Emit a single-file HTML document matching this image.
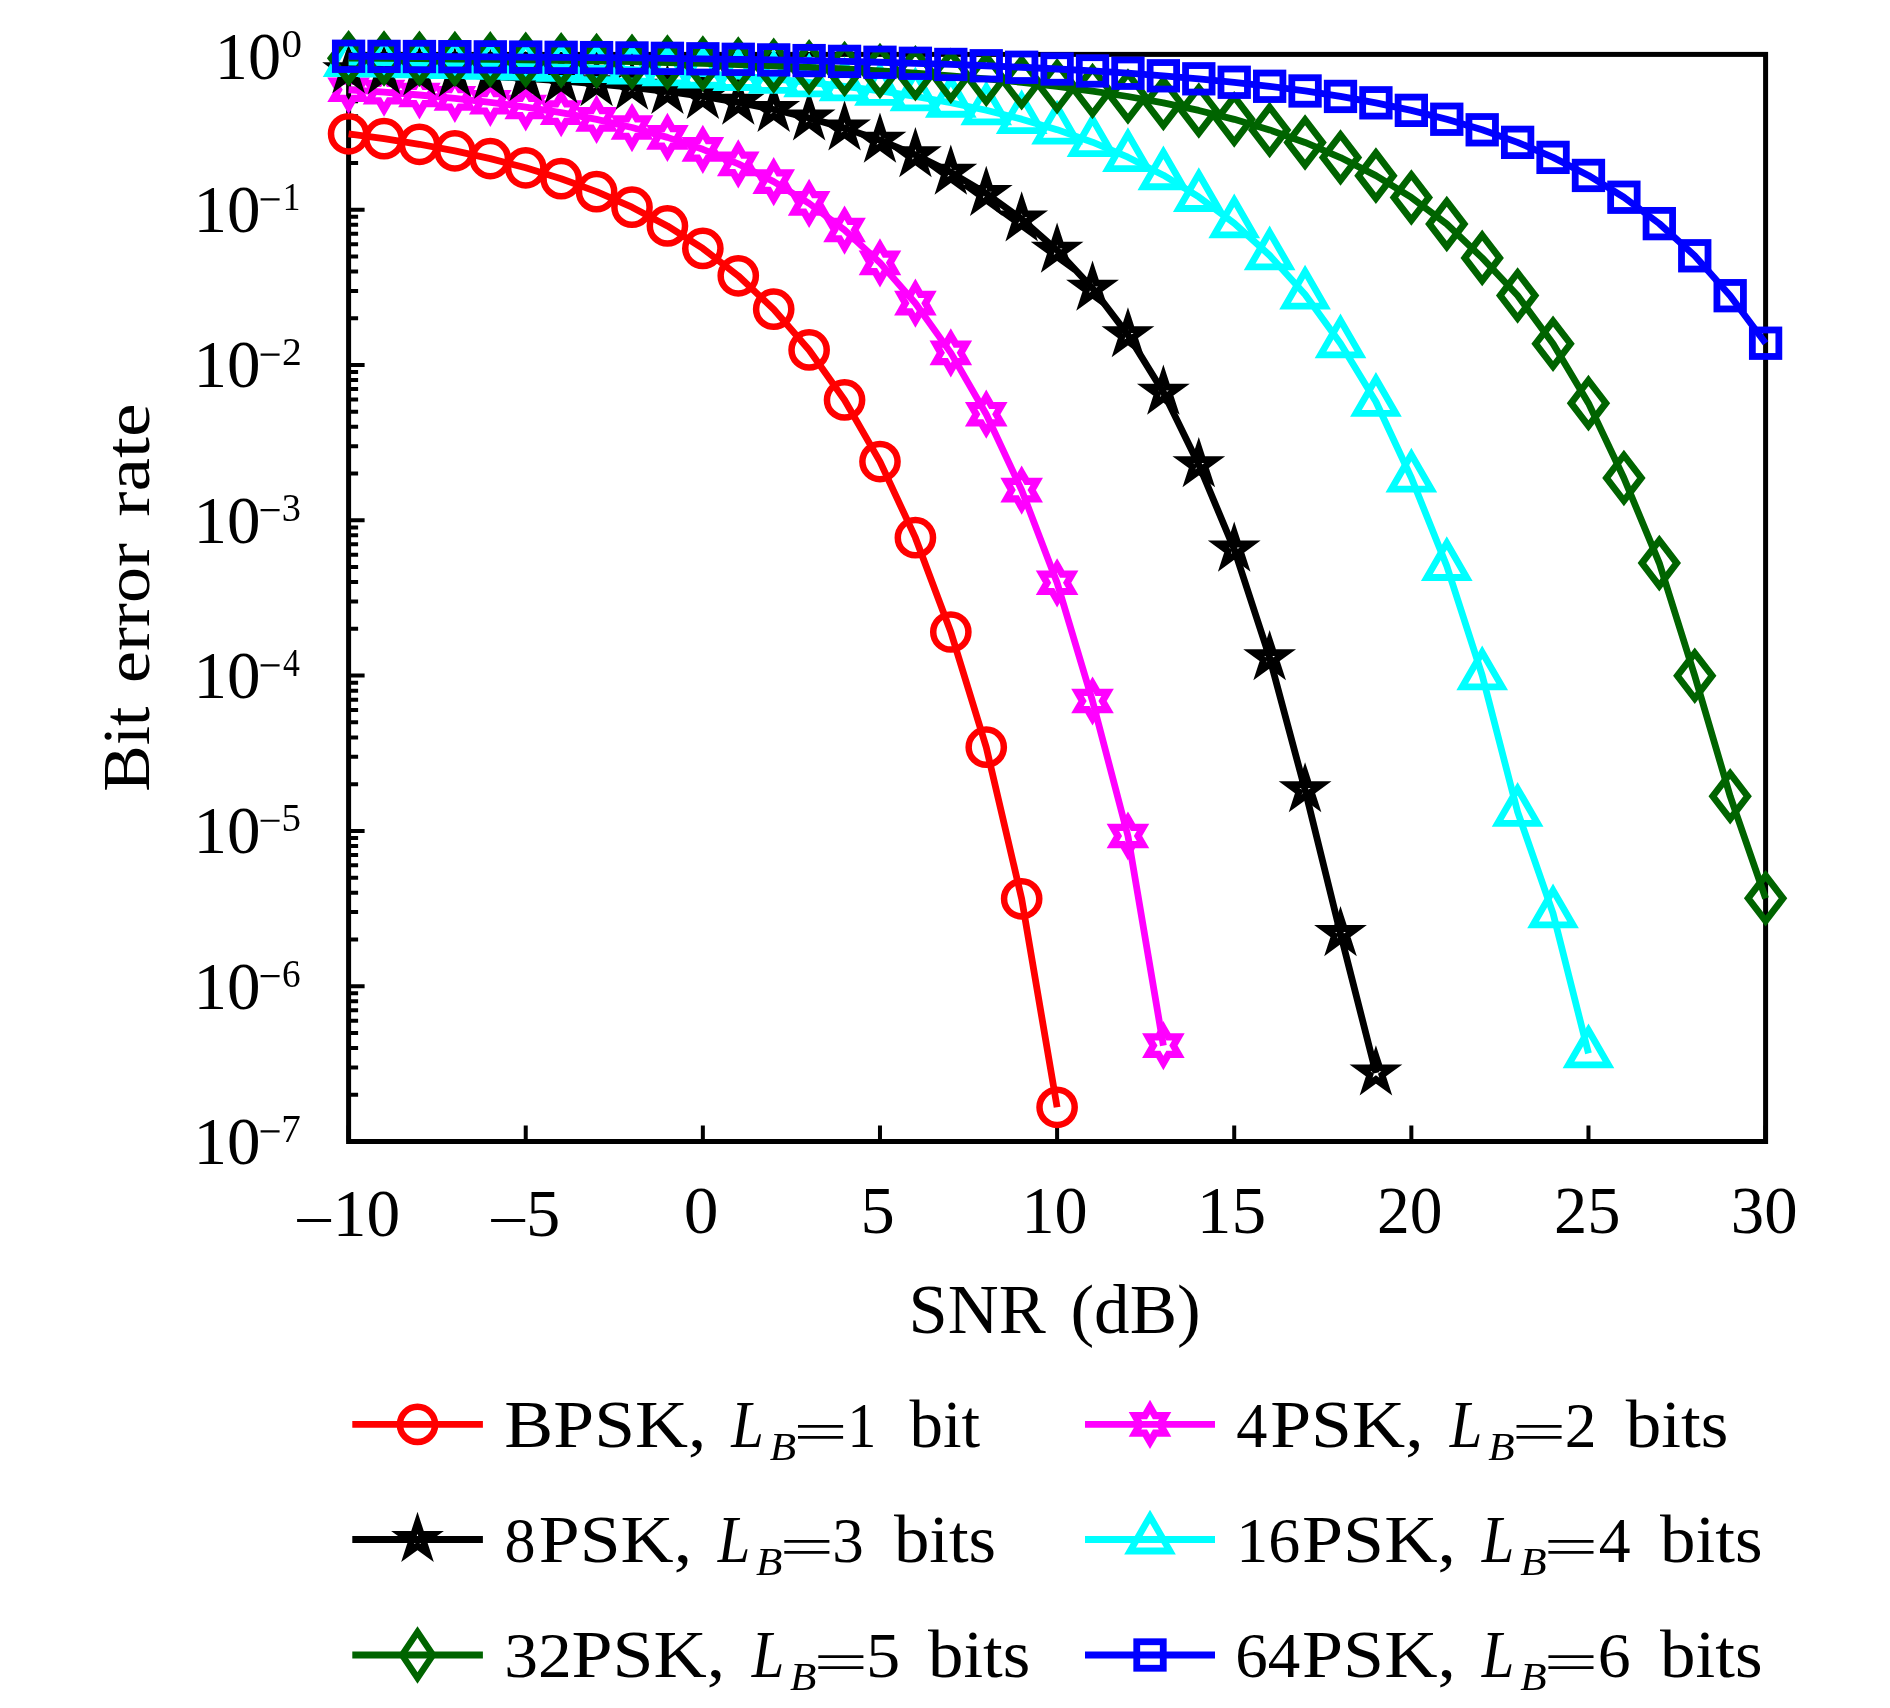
<!DOCTYPE html>
<html><head><meta charset="utf-8"><title>BER vs SNR</title><style>html,body{margin:0;padding:0;background:#fff}svg{display:block;will-change:transform}text{font-family:"Liberation Serif",serif;fill:#000}</style></head><body>
<svg width="1890" height="1708" viewBox="0 0 1890 1708">
<rect width="1890" height="1708" fill="#fff"/>
<g stroke="#000" fill="none">
<rect x="348.6" y="54.4" width="1417" height="1087.1" stroke-width="5"/>
<path d="M348.6 54.4h16M348.6 162.95h9.5M348.6 135.6h9.5M348.6 116.2h9.5M348.6 101.15h9.5M348.6 88.85h9.5M348.6 78.46h9.5M348.6 69.45h9.5M348.6 61.51h9.5M348.6 209.7h16M348.6 318.25h9.5M348.6 290.9h9.5M348.6 271.5h9.5M348.6 256.45h9.5M348.6 244.15h9.5M348.6 233.76h9.5M348.6 224.75h9.5M348.6 216.81h9.5M348.6 365h16M348.6 473.55h9.5M348.6 446.2h9.5M348.6 426.8h9.5M348.6 411.75h9.5M348.6 399.45h9.5M348.6 389.06h9.5M348.6 380.05h9.5M348.6 372.11h9.5M348.6 520.3h16M348.6 628.85h9.5M348.6 601.5h9.5M348.6 582.1h9.5M348.6 567.05h9.5M348.6 554.75h9.5M348.6 544.36h9.5M348.6 535.35h9.5M348.6 527.41h9.5M348.6 675.6h16M348.6 784.15h9.5M348.6 756.8h9.5M348.6 737.4h9.5M348.6 722.35h9.5M348.6 710.05h9.5M348.6 699.66h9.5M348.6 690.65h9.5M348.6 682.71h9.5M348.6 830.9h16M348.6 939.45h9.5M348.6 912.1h9.5M348.6 892.7h9.5M348.6 877.65h9.5M348.6 865.35h9.5M348.6 854.96h9.5M348.6 845.95h9.5M348.6 838.01h9.5M348.6 986.2h16M348.6 1094.75h9.5M348.6 1067.4h9.5M348.6 1048h9.5M348.6 1032.95h9.5M348.6 1020.65h9.5M348.6 1010.26h9.5M348.6 1001.25h9.5M348.6 993.31h9.5M348.6 1141.5h16M348.6 1141.5v-16M525.73 1141.5v-16M702.85 1141.5v-16M879.98 1141.5v-16M1057.1 1141.5v-16M1234.22 1141.5v-16M1411.35 1141.5v-16M1588.47 1141.5v-16M1765.6 1141.5v-16" stroke-width="4"/>
</g>
<g stroke="#ff0000" stroke-width="6.8" fill="none" stroke-linejoin="miter">
<polyline points="348.6,133.85 384.03,138.66 419.45,144.28 454.88,150.87 490.3,158.63 525.73,167.8 561.15,178.69 596.58,191.67 632,207.21 667.42,225.9 702.85,248.47 738.27,275.84 773.7,309.18 809.12,349.95 844.55,399.97 879.98,461.58 915.4,537.69 950.82,631.99 986.25,747.2 1021.67,898.8 1057.1,1107.3" stroke-linejoin="round"/>
<g stroke-width="6.5">
<circle cx="348.6" cy="133.85" r="17.6"/>
<circle cx="384.03" cy="138.66" r="17.6"/>
<circle cx="419.45" cy="144.28" r="17.6"/>
<circle cx="454.88" cy="150.87" r="17.6"/>
<circle cx="490.3" cy="158.63" r="17.6"/>
<circle cx="525.73" cy="167.8" r="17.6"/>
<circle cx="561.15" cy="178.69" r="17.6"/>
<circle cx="596.58" cy="191.67" r="17.6"/>
<circle cx="632" cy="207.21" r="17.6"/>
<circle cx="667.42" cy="225.9" r="17.6"/>
<circle cx="702.85" cy="248.47" r="17.6"/>
<circle cx="738.27" cy="275.84" r="17.6"/>
<circle cx="773.7" cy="309.18" r="17.6"/>
<circle cx="809.12" cy="349.95" r="17.6"/>
<circle cx="844.55" cy="399.97" r="17.6"/>
<circle cx="879.98" cy="461.58" r="17.6"/>
<circle cx="915.4" cy="537.69" r="17.6"/>
<circle cx="950.82" cy="631.99" r="17.6"/>
<circle cx="986.25" cy="747.2" r="17.6"/>
<circle cx="1021.67" cy="898.8" r="17.6"/>
<circle cx="1057.1" cy="1107.3" r="17.6"/>
</g></g>
<g stroke="#ff00ff" stroke-width="6.8" fill="none" stroke-linejoin="miter">
<polyline points="348.6,89.74 384.03,92.15 419.45,94.99 454.88,98.34 490.3,102.3 525.73,107.02 561.15,112.65 596.58,119.41 632,127.55 667.42,137.39 702.85,149.34 738.27,163.89 773.7,181.65 809.12,203.4 844.55,230.06 879.98,262.83 915.4,303.16 950.82,352.86 986.25,414.21 1021.67,490.1 1057.1,582.8 1092.53,701.01 1127.95,836 1163.38,1045.6" stroke-linejoin="round"/>
<g stroke-width="6.8">
<polygon stroke-width="7.2" points="348.6,72.34 353.62,81.04 363.67,81.04 358.65,89.74 363.67,98.44 353.62,98.44 348.6,107.14 343.58,98.44 333.53,98.44 338.55,89.74 333.53,81.04 343.58,81.04"/>
<polygon stroke-width="7.2" points="384.03,74.75 389.05,83.45 399.09,83.45 394.07,92.15 399.09,100.85 389.05,100.85 384.03,109.55 379,100.85 368.96,100.85 373.98,92.15 368.96,83.45 379,83.45"/>
<polygon stroke-width="7.2" points="419.45,77.59 424.47,86.29 434.52,86.29 429.5,94.99 434.52,103.69 424.47,103.69 419.45,112.39 414.43,103.69 404.38,103.69 409.4,94.99 404.38,86.29 414.43,86.29"/>
<polygon stroke-width="7.2" points="454.88,80.94 459.9,89.64 469.94,89.64 464.92,98.34 469.94,107.04 459.9,107.04 454.88,115.74 449.85,107.04 439.81,107.04 444.83,98.34 439.81,89.64 449.85,89.64"/>
<polygon stroke-width="7.2" points="490.3,84.9 495.32,93.6 505.37,93.6 500.35,102.3 505.37,111 495.32,111 490.3,119.7 485.28,111 475.23,111 480.25,102.3 475.23,93.6 485.28,93.6"/>
<polygon stroke-width="7.2" points="525.73,89.62 530.75,98.32 540.79,98.32 535.77,107.02 540.79,115.72 530.75,115.72 525.73,124.42 520.7,115.72 510.66,115.72 515.68,107.02 510.66,98.32 520.7,98.32"/>
<polygon stroke-width="7.2" points="561.15,95.25 566.17,103.95 576.22,103.95 571.2,112.65 576.22,121.35 566.17,121.35 561.15,130.05 556.13,121.35 546.08,121.35 551.1,112.65 546.08,103.95 556.13,103.95"/>
<polygon stroke-width="7.2" points="596.58,102.01 601.6,110.71 611.64,110.71 606.62,119.41 611.64,128.11 601.6,128.11 596.58,136.81 591.55,128.11 581.51,128.11 586.53,119.41 581.51,110.71 591.55,110.71"/>
<polygon stroke-width="7.2" points="632,110.15 637.02,118.85 647.07,118.85 642.05,127.55 647.07,136.25 637.02,136.25 632,144.95 626.98,136.25 616.93,136.25 621.95,127.55 616.93,118.85 626.98,118.85"/>
<polygon stroke-width="7.2" points="667.42,119.99 672.45,128.69 682.49,128.69 677.47,137.39 682.49,146.09 672.45,146.09 667.42,154.79 662.4,146.09 652.36,146.09 657.38,137.39 652.36,128.69 662.4,128.69"/>
<polygon stroke-width="7.2" points="702.85,131.94 707.87,140.64 717.92,140.64 712.9,149.34 717.92,158.04 707.87,158.04 702.85,166.74 697.83,158.04 687.78,158.04 692.8,149.34 687.78,140.64 697.83,140.64"/>
<polygon stroke-width="7.2" points="738.27,146.49 743.3,155.19 753.34,155.19 748.32,163.89 753.34,172.59 743.3,172.59 738.27,181.29 733.25,172.59 723.21,172.59 728.23,163.89 723.21,155.19 733.25,155.19"/>
<polygon stroke-width="7.2" points="773.7,164.25 778.72,172.95 788.77,172.95 783.75,181.65 788.77,190.35 778.72,190.35 773.7,199.05 768.68,190.35 758.63,190.35 763.65,181.65 758.63,172.95 768.68,172.95"/>
<polygon stroke-width="7.2" points="809.12,186 814.15,194.7 824.19,194.7 819.17,203.4 824.19,212.1 814.15,212.1 809.12,220.8 804.1,212.1 794.06,212.1 799.08,203.4 794.06,194.7 804.1,194.7"/>
<polygon stroke-width="7.2" points="844.55,212.66 849.57,221.36 859.62,221.36 854.6,230.06 859.62,238.76 849.57,238.76 844.55,247.46 839.53,238.76 829.48,238.76 834.5,230.06 829.48,221.36 839.53,221.36"/>
<polygon stroke-width="7.2" points="879.98,245.43 885,254.13 895.04,254.13 890.02,262.83 895.04,271.53 885,271.53 879.98,280.23 874.95,271.53 864.91,271.53 869.93,262.83 864.91,254.13 874.95,254.13"/>
<polygon stroke-width="7.2" points="915.4,285.76 920.42,294.46 930.47,294.46 925.45,303.16 930.47,311.86 920.42,311.86 915.4,320.56 910.38,311.86 900.33,311.86 905.35,303.16 900.33,294.46 910.38,294.46"/>
<polygon stroke-width="7.2" points="950.82,335.46 955.85,344.16 965.89,344.16 960.87,352.86 965.89,361.56 955.85,361.56 950.82,370.26 945.8,361.56 935.76,361.56 940.78,352.86 935.76,344.16 945.8,344.16"/>
<polygon stroke-width="7.2" points="986.25,396.81 991.27,405.51 1001.32,405.51 996.3,414.21 1001.32,422.91 991.27,422.91 986.25,431.61 981.23,422.91 971.18,422.91 976.2,414.21 971.18,405.51 981.23,405.51"/>
<polygon stroke-width="7.2" points="1021.67,472.7 1026.7,481.4 1036.74,481.4 1031.72,490.1 1036.74,498.8 1026.7,498.8 1021.67,507.5 1016.65,498.8 1006.61,498.8 1011.63,490.1 1006.61,481.4 1016.65,481.4"/>
<polygon stroke-width="7.2" points="1057.1,565.4 1062.12,574.1 1072.17,574.1 1067.15,582.8 1072.17,591.5 1062.12,591.5 1057.1,600.2 1052.08,591.5 1042.03,591.5 1047.05,582.8 1042.03,574.1 1052.08,574.1"/>
<polygon stroke-width="7.2" points="1092.53,683.61 1097.55,692.31 1107.59,692.31 1102.57,701.01 1107.59,709.71 1097.55,709.71 1092.53,718.41 1087.5,709.71 1077.46,709.71 1082.48,701.01 1077.46,692.31 1087.5,692.31"/>
<polygon stroke-width="7.2" points="1127.95,818.6 1132.97,827.3 1143.02,827.3 1138,836 1143.02,844.7 1132.97,844.7 1127.95,853.4 1122.93,844.7 1112.88,844.7 1117.9,836 1112.88,827.3 1122.93,827.3"/>
<polygon stroke-width="7.2" points="1163.38,1028.2 1168.4,1036.9 1178.44,1036.9 1173.42,1045.6 1178.44,1054.3 1168.4,1054.3 1163.38,1063 1158.35,1054.3 1148.31,1054.3 1153.33,1045.6 1148.31,1036.9 1158.35,1036.9"/>
</g></g>
<g stroke="#000000" stroke-width="6.8" fill="none" stroke-linejoin="miter">
<polyline points="348.6,70.72 384.03,71.81 419.45,73.09 454.88,74.59 490.3,76.36 525.73,78.44 561.15,80.91 596.58,83.85 632,87.34 667.42,91.5 702.85,96.47 738.27,102.4 773.7,109.49 809.12,117.97 844.55,128.12 879.98,140.26 915.4,154.83 950.82,172.34 986.25,193.48 1021.67,219.09 1057.1,250.23 1092.53,288.26 1127.95,334.88 1163.38,392.22 1198.8,464.8 1234.22,549.2 1269.65,657.8 1305.07,789.9 1340.5,933.7 1375.92,1073" stroke-linejoin="round"/>
<g stroke-width="6.8">
<polygon points="348.6,53.97 352.36,65.54 364.53,65.54 354.68,72.7 358.45,84.27 348.6,77.12 338.75,84.27 342.52,72.7 332.67,65.54 344.84,65.54"/>
<polygon points="384.03,55.06 387.79,66.64 399.96,66.64 390.11,73.79 393.87,85.36 384.03,78.21 374.18,85.36 377.94,73.79 368.09,66.64 380.26,66.64"/>
<polygon points="419.45,56.34 423.21,67.91 435.38,67.91 425.53,75.07 429.3,86.64 419.45,79.49 409.6,86.64 413.37,75.07 403.52,67.91 415.69,67.91"/>
<polygon points="454.88,57.84 458.64,69.41 470.81,69.41 460.96,76.57 464.72,88.14 454.88,80.99 445.03,88.14 448.79,76.57 438.94,69.41 451.11,69.41"/>
<polygon points="490.3,59.61 494.06,71.18 506.23,71.18 496.38,78.33 500.15,89.91 490.3,82.75 480.45,89.91 484.22,78.33 474.37,71.18 486.54,71.18"/>
<polygon points="525.73,61.69 529.49,73.27 541.66,73.27 531.81,80.42 535.57,91.99 525.73,84.84 515.88,91.99 519.64,80.42 509.79,73.27 521.96,73.27"/>
<polygon points="561.15,64.16 564.91,75.74 577.08,75.74 567.23,82.89 571,94.46 561.15,87.31 551.3,94.46 555.07,82.89 545.22,75.74 557.39,75.74"/>
<polygon points="596.58,67.1 600.34,78.67 612.51,78.67 602.66,85.82 606.42,97.4 596.58,90.25 586.73,97.4 590.49,85.82 580.64,78.67 592.81,78.67"/>
<polygon points="632,70.59 635.76,82.16 647.93,82.16 638.08,89.32 641.85,100.89 632,93.74 622.15,100.89 625.92,89.32 616.07,82.16 628.24,82.16"/>
<polygon points="667.42,74.75 671.19,86.32 683.36,86.32 673.51,93.48 677.27,105.05 667.42,97.9 657.58,105.05 661.34,93.48 651.49,86.32 663.66,86.32"/>
<polygon points="702.85,79.72 706.61,91.29 718.78,91.29 708.93,98.44 712.7,110.02 702.85,102.87 693,110.02 696.77,98.44 686.92,91.29 699.09,91.29"/>
<polygon points="738.27,85.65 742.04,97.23 754.21,97.23 744.36,104.38 748.12,115.95 738.27,108.8 728.43,115.95 732.19,104.38 722.34,97.23 734.51,97.23"/>
<polygon points="773.7,92.74 777.46,104.32 789.63,104.32 779.78,111.47 783.55,123.04 773.7,115.89 763.85,123.04 767.62,111.47 757.77,104.32 769.94,104.32"/>
<polygon points="809.12,101.22 812.89,112.8 825.06,112.8 815.21,119.95 818.97,131.52 809.12,124.37 799.28,131.52 803.04,119.95 793.19,112.8 805.36,112.8"/>
<polygon points="844.55,111.37 848.31,122.94 860.48,122.94 850.63,130.09 854.4,141.67 844.55,134.51 834.7,141.67 838.47,130.09 828.62,122.94 840.79,122.94"/>
<polygon points="879.98,123.51 883.74,135.08 895.91,135.08 886.06,142.24 889.82,153.81 879.98,146.66 870.13,153.81 873.89,142.24 864.04,135.08 876.21,135.08"/>
<polygon points="915.4,138.08 919.16,149.65 931.33,149.65 921.48,156.8 925.25,168.38 915.4,161.22 905.55,168.38 909.32,156.8 899.47,149.65 911.64,149.65"/>
<polygon points="950.82,155.59 954.59,167.17 966.76,167.17 956.91,174.32 960.67,185.89 950.82,178.74 940.98,185.89 944.74,174.32 934.89,167.17 947.06,167.17"/>
<polygon points="986.25,176.73 990.01,188.31 1002.18,188.31 992.33,195.46 996.1,207.03 986.25,199.88 976.4,207.03 980.17,195.46 970.32,188.31 982.49,188.31"/>
<polygon points="1021.67,202.34 1025.44,213.91 1037.61,213.91 1027.76,221.07 1031.52,232.64 1021.67,225.49 1011.83,232.64 1015.59,221.07 1005.74,213.91 1017.91,213.91"/>
<polygon points="1057.1,233.48 1060.86,245.06 1073.03,245.06 1063.18,252.21 1066.95,263.78 1057.1,256.63 1047.25,263.78 1051.02,252.21 1041.17,245.06 1053.34,245.06"/>
<polygon points="1092.53,271.51 1096.29,283.09 1108.46,283.09 1098.61,290.24 1102.37,301.81 1092.53,294.66 1082.68,301.81 1086.44,290.24 1076.59,283.09 1088.76,283.09"/>
<polygon points="1127.95,318.13 1131.71,329.7 1143.88,329.7 1134.03,336.85 1137.8,348.43 1127.95,341.27 1118.1,348.43 1121.87,336.85 1112.02,329.7 1124.19,329.7"/>
<polygon points="1163.38,375.47 1167.14,387.04 1179.31,387.04 1169.46,394.19 1173.22,405.77 1163.38,398.61 1153.53,405.77 1157.29,394.19 1147.44,387.04 1159.61,387.04"/>
<polygon points="1198.8,448.05 1202.56,459.62 1214.73,459.62 1204.88,466.78 1208.65,478.35 1198.8,471.2 1188.95,478.35 1192.72,466.78 1182.87,459.62 1195.04,459.62"/>
<polygon points="1234.22,532.45 1237.99,544.02 1250.16,544.02 1240.31,551.18 1244.07,562.75 1234.22,555.6 1224.38,562.75 1228.14,551.18 1218.29,544.02 1230.46,544.02"/>
<polygon points="1269.65,641.05 1273.41,652.62 1285.58,652.62 1275.73,659.78 1279.5,671.35 1269.65,664.2 1259.8,671.35 1263.57,659.78 1253.72,652.62 1265.89,652.62"/>
<polygon points="1305.07,773.15 1308.84,784.72 1321.01,784.72 1311.16,791.88 1314.92,803.45 1305.07,796.3 1295.23,803.45 1298.99,791.88 1289.14,784.72 1301.31,784.72"/>
<polygon points="1340.5,916.95 1344.26,928.52 1356.43,928.52 1346.58,935.68 1350.35,947.25 1340.5,940.1 1330.65,947.25 1334.42,935.68 1324.57,928.52 1336.74,928.52"/>
<polygon points="1375.92,1056.25 1379.69,1067.82 1391.86,1067.82 1382.01,1074.98 1385.77,1086.55 1375.92,1079.4 1366.08,1086.55 1369.84,1074.98 1359.99,1067.82 1372.16,1067.82"/>
</g></g>
<g stroke="#00ffff" stroke-width="6.8" fill="none" stroke-linejoin="miter">
<polyline points="348.6,62.18 384.03,62.69 419.45,63.27 454.88,63.96 490.3,64.76 525.73,65.7 561.15,66.8 596.58,68.1 632,69.62 667.42,71.42 702.85,73.52 738.27,76 773.7,78.9 809.12,82.3 844.55,86.27 879.98,90.92 915.4,96.36 950.82,102.75 986.25,110.26 1021.67,119.14 1057.1,129.66 1092.53,142.2 1127.95,157.2 1163.38,175.22 1198.8,196.96 1234.22,223.32 1269.65,255.39 1305.07,294.57 1340.5,343.4 1375.92,401.76 1411.35,477.7 1446.78,566 1482.2,675.4 1517.62,811.9 1553.05,913.4 1588.47,1053.3" stroke-linejoin="round"/>
<g stroke-width="6.8">
<polygon points="348.6,39.15 368.55,73.7 328.65,73.7"/>
<polygon points="384.03,39.65 403.98,74.2 364.08,74.2"/>
<polygon points="419.45,40.24 439.4,74.79 399.5,74.79"/>
<polygon points="454.88,40.92 474.82,75.48 434.93,75.48"/>
<polygon points="490.3,41.72 510.25,76.28 470.35,76.28"/>
<polygon points="525.73,42.66 545.68,77.22 505.78,77.22"/>
<polygon points="561.15,43.77 581.1,78.32 541.2,78.32"/>
<polygon points="596.58,45.06 616.53,79.62 576.62,79.62"/>
<polygon points="632,46.59 651.95,81.14 612.05,81.14"/>
<polygon points="667.42,48.38 687.38,82.93 647.47,82.93"/>
<polygon points="702.85,50.49 722.8,85.04 682.9,85.04"/>
<polygon points="738.27,52.96 758.23,87.52 718.32,87.52"/>
<polygon points="773.7,55.87 793.65,90.42 753.75,90.42"/>
<polygon points="809.12,59.26 829.08,93.82 789.17,93.82"/>
<polygon points="844.55,63.24 864.5,97.79 824.6,97.79"/>
<polygon points="879.98,67.89 899.93,102.44 860.02,102.44"/>
<polygon points="915.4,73.33 935.35,107.88 895.45,107.88"/>
<polygon points="950.82,79.71 970.77,114.27 930.87,114.27"/>
<polygon points="986.25,87.23 1006.2,121.78 966.3,121.78"/>
<polygon points="1021.67,96.1 1041.62,130.66 1001.72,130.66"/>
<polygon points="1057.1,106.63 1077.05,141.18 1037.15,141.18"/>
<polygon points="1092.53,119.17 1112.48,153.72 1072.58,153.72"/>
<polygon points="1127.95,134.16 1147.9,168.72 1108,168.72"/>
<polygon points="1163.38,152.18 1183.33,186.74 1143.42,186.74"/>
<polygon points="1198.8,173.93 1218.75,208.48 1178.85,208.48"/>
<polygon points="1234.22,200.28 1254.17,234.84 1214.27,234.84"/>
<polygon points="1269.65,232.35 1289.6,266.91 1249.7,266.91"/>
<polygon points="1305.07,271.53 1325.02,306.09 1285.12,306.09"/>
<polygon points="1340.5,320.36 1360.45,354.92 1320.55,354.92"/>
<polygon points="1375.92,378.73 1395.87,413.28 1355.97,413.28"/>
<polygon points="1411.35,454.66 1431.3,489.22 1391.4,489.22"/>
<polygon points="1446.78,542.96 1466.73,577.52 1426.83,577.52"/>
<polygon points="1482.2,652.36 1502.15,686.92 1462.25,686.92"/>
<polygon points="1517.62,788.86 1537.58,823.42 1497.67,823.42"/>
<polygon points="1553.05,890.36 1573,924.92 1533.1,924.92"/>
<polygon points="1588.47,1030.26 1608.42,1064.82 1568.52,1064.82"/>
</g></g>
<g stroke="#006400" stroke-width="6.8" fill="none" stroke-linejoin="miter">
<polyline points="348.6,58.19 384.03,58.43 419.45,58.71 454.88,59.04 490.3,59.41 525.73,59.85 561.15,60.37 596.58,60.97 632,61.67 667.42,62.49 702.85,63.44 738.27,64.55 773.7,65.83 809.12,67.31 844.55,69.02 879.98,70.98 915.4,73.24 950.82,75.84 986.25,78.84 1021.67,82.31 1057.1,86.33 1092.53,91.02 1127.95,96.49 1163.38,102.9 1198.8,110.44 1234.22,119.34 1269.65,129.91 1305.07,142.49 1340.5,157.55 1375.92,175.64 1411.35,197.48 1446.78,223.94 1482.2,257.9 1517.62,295.5 1553.05,343.76 1588.47,403.16 1623.9,478 1659.32,563.1 1694.75,675.8 1730.17,796.2 1765.6,898.3" stroke-linejoin="round"/>
<g stroke-width="6.8">
<polygon points="348.6,35.49 366,58.19 348.6,80.89 331.2,58.19"/>
<polygon points="384.03,35.73 401.43,58.43 384.03,81.13 366.63,58.43"/>
<polygon points="419.45,36.01 436.85,58.71 419.45,81.41 402.05,58.71"/>
<polygon points="454.88,36.34 472.27,59.04 454.88,81.74 437.48,59.04"/>
<polygon points="490.3,36.71 507.7,59.41 490.3,82.11 472.9,59.41"/>
<polygon points="525.73,37.15 543.12,59.85 525.73,82.55 508.33,59.85"/>
<polygon points="561.15,37.67 578.55,60.37 561.15,83.07 543.75,60.37"/>
<polygon points="596.58,38.27 613.98,60.97 596.58,83.67 579.18,60.97"/>
<polygon points="632,38.97 649.4,61.67 632,84.37 614.6,61.67"/>
<polygon points="667.42,39.79 684.82,62.49 667.42,85.19 650.02,62.49"/>
<polygon points="702.85,40.74 720.25,63.44 702.85,86.14 685.45,63.44"/>
<polygon points="738.27,41.85 755.67,64.55 738.27,87.25 720.88,64.55"/>
<polygon points="773.7,43.13 791.1,65.83 773.7,88.53 756.3,65.83"/>
<polygon points="809.12,44.61 826.52,67.31 809.12,90.01 791.73,67.31"/>
<polygon points="844.55,46.32 861.95,69.02 844.55,91.72 827.15,69.02"/>
<polygon points="879.98,48.28 897.38,70.98 879.98,93.68 862.58,70.98"/>
<polygon points="915.4,50.54 932.8,73.24 915.4,95.94 898,73.24"/>
<polygon points="950.82,53.14 968.22,75.84 950.82,98.54 933.42,75.84"/>
<polygon points="986.25,56.14 1003.65,78.84 986.25,101.54 968.85,78.84"/>
<polygon points="1021.67,59.61 1039.08,82.31 1021.67,105.01 1004.27,82.31"/>
<polygon points="1057.1,63.63 1074.5,86.33 1057.1,109.03 1039.7,86.33"/>
<polygon points="1092.53,68.32 1109.93,91.02 1092.53,113.72 1075.12,91.02"/>
<polygon points="1127.95,73.79 1145.35,96.49 1127.95,119.19 1110.55,96.49"/>
<polygon points="1163.38,80.2 1180.78,102.9 1163.38,125.6 1145.97,102.9"/>
<polygon points="1198.8,87.74 1216.2,110.44 1198.8,133.14 1181.4,110.44"/>
<polygon points="1234.22,96.64 1251.62,119.34 1234.22,142.04 1216.82,119.34"/>
<polygon points="1269.65,107.21 1287.05,129.91 1269.65,152.61 1252.25,129.91"/>
<polygon points="1305.07,119.79 1322.47,142.49 1305.07,165.19 1287.67,142.49"/>
<polygon points="1340.5,134.85 1357.9,157.55 1340.5,180.25 1323.1,157.55"/>
<polygon points="1375.92,152.94 1393.32,175.64 1375.92,198.34 1358.52,175.64"/>
<polygon points="1411.35,174.78 1428.75,197.48 1411.35,220.18 1393.95,197.48"/>
<polygon points="1446.78,201.24 1464.18,223.94 1446.78,246.64 1429.38,223.94"/>
<polygon points="1482.2,235.2 1499.6,257.9 1482.2,280.6 1464.8,257.9"/>
<polygon points="1517.62,272.8 1535.03,295.5 1517.62,318.2 1500.22,295.5"/>
<polygon points="1553.05,321.06 1570.45,343.76 1553.05,366.46 1535.65,343.76"/>
<polygon points="1588.47,380.46 1605.88,403.16 1588.47,425.86 1571.07,403.16"/>
<polygon points="1623.9,455.3 1641.3,478 1623.9,500.7 1606.5,478"/>
<polygon points="1659.32,540.4 1676.72,563.1 1659.32,585.8 1641.92,563.1"/>
<polygon points="1694.75,653.1 1712.15,675.8 1694.75,698.5 1677.35,675.8"/>
<polygon points="1730.17,773.5 1747.57,796.2 1730.17,818.9 1712.77,796.2"/>
<polygon points="1765.6,875.6 1783,898.3 1765.6,921 1748.2,898.3"/>
</g></g>
<g stroke="#0000ff" stroke-width="6.8" fill="none" stroke-linejoin="miter">
<polyline points="348.6,56.27 384.03,56.39 419.45,56.52 454.88,56.68 490.3,56.86 525.73,57.08 561.15,57.32 596.58,57.61 632,57.95 667.42,58.34 702.85,58.79 738.27,59.31 773.7,59.91 809.12,60.59 844.55,61.38 879.98,62.27 915.4,63.29 950.82,64.45 986.25,65.76 1021.67,67.27 1057.1,68.99 1092.53,70.95 1127.95,73.21 1163.38,75.81 1198.8,78.81 1234.22,82.27 1269.65,86.29 1305.07,90.97 1340.5,96.43 1375.92,102.83 1411.35,110.35 1446.78,119.25 1482.2,129.79 1517.62,142.35 1553.05,157.38 1588.47,175.44 1623.9,197.23 1659.32,223.64 1694.75,255.78 1730.17,295.7 1765.6,343.22" stroke-linejoin="round"/>
<g stroke-width="6.8">
<rect x="335.35" y="43.02" width="26.5" height="26.5"/>
<rect x="370.78" y="43.14" width="26.5" height="26.5"/>
<rect x="406.2" y="43.27" width="26.5" height="26.5"/>
<rect x="441.62" y="43.43" width="26.5" height="26.5"/>
<rect x="477.05" y="43.61" width="26.5" height="26.5"/>
<rect x="512.48" y="43.83" width="26.5" height="26.5"/>
<rect x="547.9" y="44.07" width="26.5" height="26.5"/>
<rect x="583.33" y="44.36" width="26.5" height="26.5"/>
<rect x="618.75" y="44.7" width="26.5" height="26.5"/>
<rect x="654.17" y="45.09" width="26.5" height="26.5"/>
<rect x="689.6" y="45.54" width="26.5" height="26.5"/>
<rect x="725.02" y="46.06" width="26.5" height="26.5"/>
<rect x="760.45" y="46.66" width="26.5" height="26.5"/>
<rect x="795.88" y="47.34" width="26.5" height="26.5"/>
<rect x="831.3" y="48.13" width="26.5" height="26.5"/>
<rect x="866.73" y="49.02" width="26.5" height="26.5"/>
<rect x="902.15" y="50.04" width="26.5" height="26.5"/>
<rect x="937.57" y="51.2" width="26.5" height="26.5"/>
<rect x="973" y="52.51" width="26.5" height="26.5"/>
<rect x="1008.42" y="54.02" width="26.5" height="26.5"/>
<rect x="1043.85" y="55.74" width="26.5" height="26.5"/>
<rect x="1079.28" y="57.7" width="26.5" height="26.5"/>
<rect x="1114.7" y="59.96" width="26.5" height="26.5"/>
<rect x="1150.12" y="62.56" width="26.5" height="26.5"/>
<rect x="1185.55" y="65.56" width="26.5" height="26.5"/>
<rect x="1220.97" y="69.02" width="26.5" height="26.5"/>
<rect x="1256.4" y="73.04" width="26.5" height="26.5"/>
<rect x="1291.82" y="77.72" width="26.5" height="26.5"/>
<rect x="1327.25" y="83.18" width="26.5" height="26.5"/>
<rect x="1362.67" y="89.58" width="26.5" height="26.5"/>
<rect x="1398.1" y="97.1" width="26.5" height="26.5"/>
<rect x="1433.53" y="106" width="26.5" height="26.5"/>
<rect x="1468.95" y="116.54" width="26.5" height="26.5"/>
<rect x="1504.38" y="129.1" width="26.5" height="26.5"/>
<rect x="1539.8" y="144.13" width="26.5" height="26.5"/>
<rect x="1575.22" y="162.19" width="26.5" height="26.5"/>
<rect x="1610.65" y="183.98" width="26.5" height="26.5"/>
<rect x="1646.07" y="210.39" width="26.5" height="26.5"/>
<rect x="1681.5" y="242.53" width="26.5" height="26.5"/>
<rect x="1716.92" y="282.45" width="26.5" height="26.5"/>
<rect x="1752.35" y="329.97" width="26.5" height="26.5"/>
</g></g>
<g stroke="#ff0000" stroke-width="6.8" fill="none"><path d="M352.3 1424.4H482.9"/><g stroke-width="6.5"><circle cx="417.5" cy="1424.4" r="17.6"/></g></g>
<g stroke="#ff00ff" stroke-width="6.8" fill="none"><path d="M1085 1424.4H1215"/><g stroke-width="6.8"><polygon stroke-width="7.2" points="1150,1407 1155.02,1415.7 1165.07,1415.7 1160.05,1424.4 1165.07,1433.1 1155.02,1433.1 1150,1441.8 1144.98,1433.1 1134.93,1433.1 1139.95,1424.4 1134.93,1415.7 1144.98,1415.7"/></g></g>
<g stroke="#000000" stroke-width="6.8" fill="none"><path d="M352.3 1539.5H482.9"/><g stroke-width="6.8"><polygon points="417.5,1522.75 421.26,1534.32 433.43,1534.32 423.58,1541.48 427.35,1553.05 417.5,1545.9 407.65,1553.05 411.42,1541.48 401.57,1534.32 413.74,1534.32"/></g></g>
<g stroke="#00ffff" stroke-width="6.8" fill="none"><path d="M1085 1539.5H1215"/><g stroke-width="6.8"><polygon points="1150,1516.46 1169.95,1551.02 1130.05,1551.02"/></g></g>
<g stroke="#006400" stroke-width="6.8" fill="none"><path d="M352.3 1655H482.9"/><g stroke-width="6.5"><polygon points="417.5,1632 432.9,1655 417.5,1678 402.1,1655"/></g></g>
<g stroke="#0000ff" stroke-width="6.8" fill="none"><path d="M1085 1655H1215"/><g stroke-width="6.8"><rect x="1136.75" y="1641.75" width="26.5" height="26.5"/></g></g>
<text transform="translate(332.695,1236) scale(1.001,1)" font-size="67.3">10</text>
<text transform="translate(525.926,1236) scale(1.019,1)" font-size="67.3">5</text>
<text transform="translate(683.721,1233.1) scale(1.032,1)" font-size="67.3">0</text>
<text transform="translate(860.426,1233.1) scale(1.019,1)" font-size="67.3">5</text>
<text transform="translate(1021.497,1233.1) scale(0.984,1)" font-size="67.3">10</text>
<text transform="translate(1196.711,1233.1) scale(1.031,1)" font-size="67.3">15</text>
<text transform="translate(1376.98,1233.1) scale(0.973,1)" font-size="67.3">20</text>
<text transform="translate(1553.936,1233.1) scale(0.988,1)" font-size="67.3">25</text>
<text transform="translate(1730.776,1233.1) scale(0.992,1)" font-size="67.3">30</text>
<text transform="translate(214.797,79.3) scale(0.984,1)" font-size="67.3">10</text>
<text transform="translate(281.442,56.8) scale(1.039,1)" font-size="39.5">0</text>
<text transform="translate(193.515,231.95) scale(0.997,1)" font-size="67.3">10</text>
<text transform="translate(282.775,210.05) scale(0.893,1)" font-size="39.5">1</text>
<text transform="translate(193.515,387.3) scale(0.997,1)" font-size="67.3">10</text>
<text transform="translate(281.944,365.4) scale(1.003,1)" font-size="39.5">2</text>
<text transform="translate(193.515,542.65) scale(0.997,1)" font-size="67.3">10</text>
<text transform="translate(281.755,520.75) scale(0.972,1)" font-size="39.5">3</text>
<text transform="translate(193.515,698) scale(0.997,1)" font-size="67.3">10</text>
<text transform="translate(283.059,676.1) scale(0.854,1)" font-size="39.5">4</text>
<text transform="translate(193.515,853.35) scale(0.997,1)" font-size="67.3">10</text>
<text transform="translate(281.478,831.45) scale(0.988,1)" font-size="39.5">5</text>
<text transform="translate(193.515,1008.7) scale(0.997,1)" font-size="67.3">10</text>
<text transform="translate(282.049,986.8) scale(0.943,1)" font-size="39.5">6</text>
<text transform="translate(193.515,1164.05) scale(0.997,1)" font-size="67.3">10</text>
<text transform="translate(281.231,1142.15) scale(0.988,1)" font-size="39.5">7</text>
<text transform="translate(908.616,1332.9) scale(1.007,1)" font-size="70">SNR</text>
<text transform="translate(1070.455,1332.9) scale(1.015,1)" font-size="70">(dB)</text>
<text transform="translate(149.1,789.6) rotate(-90) scale(1.014,1) translate(-2,0)" x="0" y="0" font-size="68.5">Bit</text>
<text transform="translate(149.1,680.1) rotate(-90) scale(1.051,0.92) translate(-2.75,0)" x="0" y="0" font-size="68.5">error</text>
<text transform="translate(149.1,515.4) rotate(-90) scale(1.105,0.94) translate(-1.25,0)" x="0" y="0" font-size="68.5">rate</text>
<text transform="translate(504.36,1446.9) scale(1.07,1)" font-size="68.6">BPSK,</text>
<text transform="translate(731.34,1446.9) scale(0.854,1)" font-size="68.6" font-style="italic">L</text>
<text transform="translate(769.747,1459.8) scale(1.107,1)" font-size="39" font-style="italic">B</text>
<text transform="translate(847.613,1446.9) scale(0.907,1)" font-size="63.5">1</text>
<text transform="translate(909.5,1446.9) scale(0.975,1)" font-size="68.6">bit</text>
<text transform="translate(1236.175,1446.9) scale(0.98,1)" font-size="63.5">4</text>
<text transform="translate(1270.154,1446.9) scale(1.073,1)" font-size="68.6">PSK,</text>
<text transform="translate(1449.84,1446.9) scale(0.854,1)" font-size="68.6" font-style="italic">L</text>
<text transform="translate(1488.247,1459.8) scale(1.107,1)" font-size="39" font-style="italic">B</text>
<text transform="translate(1564.75,1446.9) scale(1,1)" font-size="63.5">2</text>
<text transform="translate(1625.8,1446.9) scale(1.035,1)" font-size="68.6">bits</text>
<text transform="translate(504.551,1561.9) scale(0.979,1)" font-size="63.5">8</text>
<text transform="translate(538.756,1561.9) scale(1.072,1)" font-size="68.6">PSK,</text>
<text transform="translate(717.64,1561.9) scale(0.854,1)" font-size="68.6" font-style="italic">L</text>
<text transform="translate(756.047,1574.8) scale(1.107,1)" font-size="39" font-style="italic">B</text>
<text transform="translate(832.317,1561.9) scale(0.994,1)" font-size="63.5">3</text>
<text transform="translate(893.9,1561.9) scale(1.031,1)" font-size="68.6">bits</text>
<text transform="translate(1236.361,1561.9) scale(1.007,1)" font-size="63.5">16</text>
<text transform="translate(1302.047,1561.9) scale(1.076,1)" font-size="68.6">PSK,</text>
<text transform="translate(1481.74,1561.9) scale(0.854,1)" font-size="68.6" font-style="italic">L</text>
<text transform="translate(1520.147,1574.8) scale(1.107,1)" font-size="39" font-style="italic">B</text>
<text transform="translate(1598.646,1561.9) scale(1.003,1)" font-size="63.5">4</text>
<text transform="translate(1660.1,1561.9) scale(1.034,1)" font-size="68.6">bits</text>
<text transform="translate(504.211,1677.2) scale(1.063,1)" font-size="63.5">32</text>
<text transform="translate(571.447,1677.2) scale(1.076,1)" font-size="68.6">PSK,</text>
<text transform="translate(751.64,1677.2) scale(0.854,1)" font-size="68.6" font-style="italic">L</text>
<text transform="translate(790.047,1690.1) scale(1.107,1)" font-size="39" font-style="italic">B</text>
<text transform="translate(865.956,1677.2) scale(1.078,1)" font-size="63.5">5</text>
<text transform="translate(928,1677.2) scale(1.032,1)" font-size="68.6">bits</text>
<text transform="translate(1235.288,1677.2) scale(1.023,1)" font-size="63.5">64</text>
<text transform="translate(1302.047,1677.2) scale(1.076,1)" font-size="68.6">PSK,</text>
<text transform="translate(1481.74,1677.2) scale(0.854,1)" font-size="68.6" font-style="italic">L</text>
<text transform="translate(1520.147,1690.1) scale(1.107,1)" font-size="39" font-style="italic">B</text>
<text transform="translate(1597.648,1677.2) scale(1.037,1)" font-size="63.5">6</text>
<text transform="translate(1660.1,1677.2) scale(1.034,1)" font-size="68.6">bits</text>
<path d="M297.1 1220.5H331.1M491.1 1220.5H525.2" stroke="#000" stroke-width="3" fill="none"/>
<path d="M260.6 199.35H279.6M260.6 354.7H279.6M260.6 510.05H279.6M260.6 665.4H279.6M260.6 820.75H279.6M260.6 976.1H279.6M260.6 1131.45H279.6" stroke="#000" stroke-width="2.2" fill="none"/>
<path d="M798 1426.3H843.1M798 1437.3H843.1M1516.5 1426.3H1561.6M1516.5 1437.3H1561.6M784.3 1541.3H829.4M784.3 1552.3H829.4M1548.4 1541.3H1593.5M1548.4 1552.3H1593.5M818.3 1656.6H863.4M818.3 1667.6H863.4M1548.4 1656.6H1593.5M1548.4 1667.6H1593.5" stroke="#000" stroke-width="2.7" fill="none"/>
</svg>
</body></html>
